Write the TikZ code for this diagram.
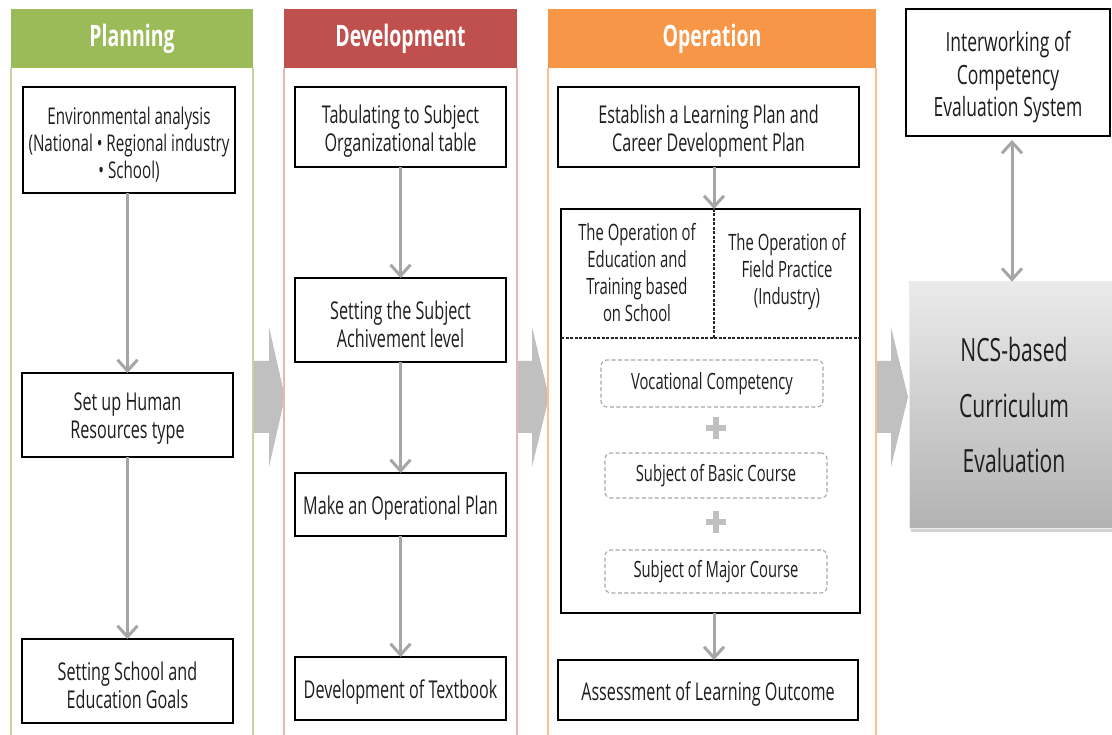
\documentclass[tikz,border=0pt]{standalone}
\usepackage{fontspec}
\setmainfont{Open Sans}[FakeStretch=0.66]
\usetikzlibrary{arrows.meta,shadows}
\definecolor{hgreen}{HTML}{9BBB59}
\definecolor{lgreen}{HTML}{C3D69B}
\definecolor{hred}{HTML}{C0504D}
\definecolor{lred}{HTML}{E6B9B8}
\definecolor{horange}{HTML}{F79646}
\definecolor{lorange}{HTML}{FAC090}
\definecolor{arrgray}{HTML}{A6A6A6}
\definecolor{blkgray}{HTML}{C0C0C0}
\definecolor{txt}{HTML}{1E1E1E}
\tikzset{
  box/.style={draw=black, line width=2.6pt, fill=white, inner sep=0pt, outer sep=0pt},
  boxtxt/.style={align=center, inner sep=0pt, text=txt, font=\fontsize{24.5}{28}\selectfont, yshift=-4pt},
  bt/.style={label={[boxtxt]center:{#1}}},
  dbox/.style={draw=arrgray, line width=1.1pt, dash pattern=on 4pt off 2.5pt, rounded corners=6pt,
    align=center, inner sep=0pt, outer sep=0pt, text=txt, font=\fontsize{22.4}{27}\selectfont},
  inner/.style={align=center, inner sep=0pt, text=txt, font=\fontsize{22.5}{27}\selectfont},
  header/.style={inner sep=0pt, outer sep=0pt, text=white, font=\fontsize{29.5}{32}\selectfont\bfseries},
  conn/.style={draw=arrgray, line width=3pt, -{Straight Barb[length=11pt,width=20pt]}},
  dconn/.style={draw=arrgray, line width=3pt, {Straight Barb[length=11pt,width=20pt]}-{Straight Barb[length=11pt,width=20pt]}},
  blockarrow/.style={fill=blkgray, draw=none},
  divider/.style={draw=black!85, line width=1.3pt, dash pattern=on 3pt off 1.5pt},
  plussign/.style={draw=blkgray, line width=6.5pt},
}
\begin{document}
\begin{tikzpicture}[x=1pt,y=-1pt]
\useasboundingbox (0,0) rectangle (1112,735);
\fill[white] (0,0) rectangle (1112,735);

% block arrows between phases
\fill[blockarrow] (253,361) -- (269,361) -- (269,327) -- (285,397) -- (269,467) -- (269,433) -- (253,433) -- cycle;
\fill[blockarrow] (517,361) -- (532,361) -- (532,327) -- (549,397) -- (532,467) -- (532,433) -- (517,433) -- cycle;
\fill[blockarrow] (876,361) -- (891,361) -- (891,327) -- (908,397) -- (891,467) -- (891,433) -- (876,433) -- cycle;

% column frames
\draw[lgreen, line width=1.5pt] (11,68) -- (11,736) (253,68) -- (253,736);
\draw[lred, line width=1.5pt] (284,68) -- (284,736) (517,68) -- (517,736);
\draw[lorange, line width=1.5pt] (548,68) -- (548,736) (876,68) -- (876,736);

% headers
\node[header, fill=hgreen, minimum width=242pt, minimum height=59pt] (hp) at (132,38.5) {\raisebox{-1.5pt}{Planning}};
\node[header, fill=hred, minimum width=233pt, minimum height=59pt] (hd) at (400.5,38.5) {\raisebox{-1.5pt}{Development}};
\node[header, fill=horange, minimum width=328pt, minimum height=59pt] (ho) at (712,38.5) {\raisebox{-1.5pt}{Operation}};

% Planning
\node[box, minimum width=212pt, minimum height=106pt,
  label={[boxtxt, font=\fontsize{23}{27}\selectfont, yshift=-1pt]center:{Environmental analysis\\(National • Regional industry\\• School)}}] (p1) at (129,140) {};
\node[box, minimum width=211pt, minimum height=84pt, bt={Set up Human\\Resources type}] (p2) at (127.5,415) {};
\node[box, minimum width=211pt, minimum height=84pt, bt={Setting School and\\Education Goals}] (p3) at (127.5,681) {};
\draw[conn] (p2.north |- p1.south) -- (p2.north);
\draw[conn] (p2.south) -- (p3.north);

% Development
\node[box, minimum width=211pt, minimum height=80pt, bt={Tabulating to Subject\\Organizational table}] (d1) at (400.5,127) {};
\node[box, minimum width=211pt, minimum height=84pt, bt={Setting the Subject\\Achivement level}] (d2) at (400.5,320) {};
\node[box, minimum width=211pt, minimum height=63pt, bt={Make an Operational Plan}] (d3) at (400.5,504.5) {};
\node[box, minimum width=211pt, minimum height=63pt, bt={Development of Textbook}] (d4) at (400.5,688.5) {};
\draw[conn] (d1.south) -- (d2.north);
\draw[conn] (d2.south) -- (d3.north);
\draw[conn] (d3.south) -- (d4.north);

% Operation
\node[box, minimum width=301pt, minimum height=80pt, bt={Establish a Learning Plan and\\Career Development Plan}] (o1) at (708.5,127) {};
\node[box, minimum width=299pt, minimum height=404pt] (ob) at (710.5,411) {};
\coordinate (divtop) at (714,209);
\coordinate (divbot) at (714,338);
\draw[divider] (divtop) -- (divbot);
\draw[divider] (ob.west |- divbot) -- (ob.east |- divbot);
\node[inner] (oschool) at (637,273) {The Operation of\\Education and\\Training based\\on School};
\node[inner] (ofield) at (787,272) {The Operation of\\Field Practice\\(Industry)};
\node[dbox, minimum width=222pt, minimum height=47pt] (ov) at (712,383.5) {\raisebox{-1pt}{Vocational Competency}};
\node[dbox, minimum width=222pt, minimum height=45pt] (obc) at (716,475.5) {\raisebox{-1pt}{Subject of Basic Course}};
\node[dbox, minimum width=222pt, minimum height=43pt] (omc) at (716,571.5) {\raisebox{-1pt}{Subject of Major Course}};
\draw[plussign] (706,428) -- (726,428) (716,417) -- (716,439);
\draw[plussign] (706,522) -- (726,522) (716,511) -- (716,533);
\node[box, minimum width=300pt, minimum height=60pt, bt={Assessment of Learning Outcome}] (o2) at (708,690) {};
\draw[conn] (divtop |- o1.south) -- (divtop);
\draw[conn] (divtop |- ob.south) -- (divtop |- o2.north);

% right side
\node[box, minimum width=204pt, minimum height=127pt,
  label={[boxtxt, font=\fontsize{26.5}{32.5}\selectfont, yshift=-1pt]center:{Interworking of\\Competency\\Evaluation System}}] (iw) at (1008,72.5) {};
\node[draw=white!92!black, line width=0.8pt, top color=white!92!black, bottom color=white!70!black,
  drop shadow={opacity=0.35, shadow xshift=2pt, shadow yshift=-4pt},
  minimum width=210pt, minimum height=246pt, inner sep=0pt, align=center, text=txt,
  font=\fontsize{32}{55.5}\selectfont] (ncs) at (1014,405) {NCS-based\\Curriculum\\Evaluation};
\draw[dconn] (1012,140) -- (ncs.north -| 1012,0);
\end{tikzpicture}
\end{document}
